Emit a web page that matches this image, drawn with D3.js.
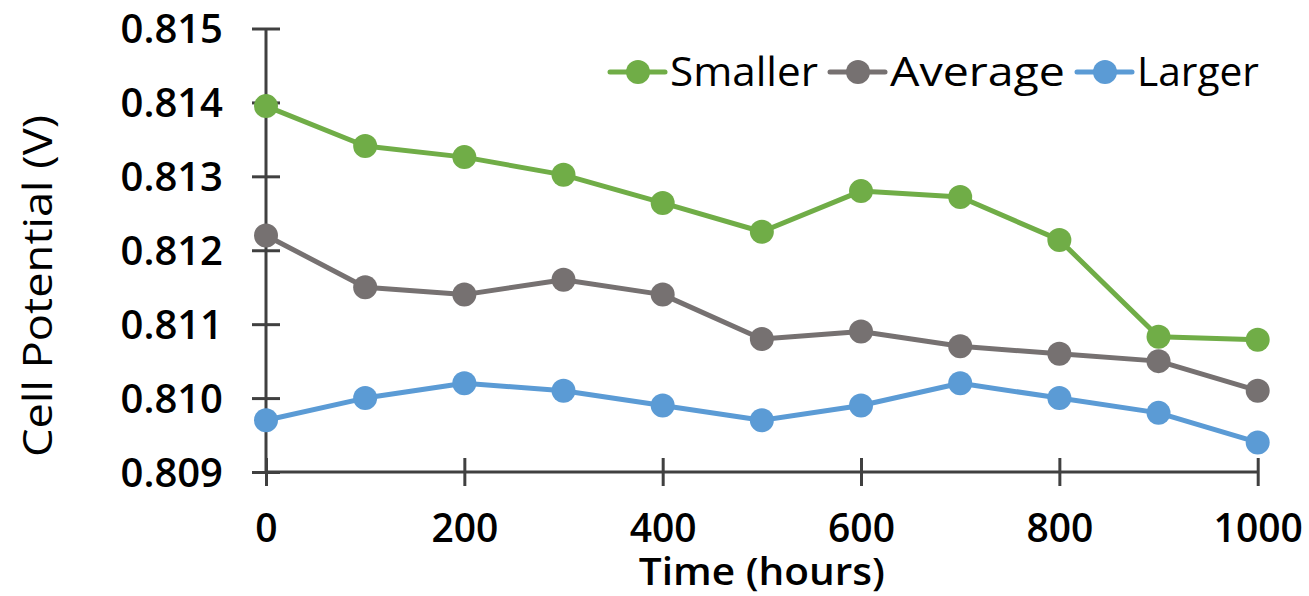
<!DOCTYPE html>
<html>
<head>
<meta charset="utf-8">
<script src="https://cdn.jsdelivr.net/npm/d3@7"></script>
<style>
  html, body { margin: 0; padding: 0; background: #fff; }
  svg { display: block; font-family: "Open Sans", sans-serif; }
</style>
</head>
<body>
<svg id="chart" width="1309" height="596"></svg>
<script>
// Time points (hours) and cell potential per particle-size group (V)
const hours = [0, 100, 200, 300, 400, 500, 600, 700, 800, 900, 1000];
const smaller = [0.81395, 0.81341, 0.81326, 0.81302, 0.81264, 0.81225, 0.8128, 0.81272, 0.81214, 0.81083, 0.81079];
const average = [0.8122, 0.8115, 0.8114, 0.8116, 0.8114, 0.8108, 0.8109, 0.8107, 0.8106, 0.8105, 0.8101];
const larger = [0.8097, 0.8100, 0.8102, 0.8101, 0.8099, 0.8097, 0.8099, 0.8102, 0.8100, 0.8098, 0.8094];
const seriesNames = ["Smaller", "Average", "Larger"];
const seriesColors = ["#70AD47", "#767171", "#5B9BD5"];
const xTicks = [0, 200, 400, 600, 800, 1000];
const yTicks = [0.809, 0.810, 0.811, 0.812, 0.813, 0.814, 0.815];

const svg = d3.select("#chart");
const axisColor = "#404040";

const x = d3.scaleLinear().domain([0, 1000]).range([266, 1257.7]);
const y = d3.scaleLinear().domain([0.809, 0.815]).range([472, 28.5]);

// Y axis with ticks crossing the line
const yAxis = svg.append("g")
  .attr("transform", `translate(${x(0)},0)`)
  .call(d3.axisLeft(y).tickValues(yTicks).tickFormat(d3.format(".3f")).tickSize(0).tickPadding(0));
yAxis.select(".domain").attr("stroke", axisColor).attr("stroke-width", 3)
  .attr("d", `M0,${y(0.815)}V${y(0.809)}`);
yAxis.selectAll(".tick line").attr("x1", -14).attr("x2", 14)
  .attr("stroke", axisColor).attr("stroke-width", 3);
yAxis.selectAll(".tick text")
  .attr("x", -43).attr("dy", "0.36em")
  .attr("fill", "#000").attr("font-size", 40).attr("font-weight", 600)
  .attr("font-family", "'Open Sans', sans-serif").attr("text-anchor", "end");

// X axis
const xAxis = svg.append("g")
  .attr("transform", `translate(0,${y(0.809)})`)
  .call(d3.axisBottom(x).tickValues(xTicks).tickFormat(d3.format("d")).tickSize(0).tickPadding(0));
xAxis.select(".domain").attr("stroke", axisColor).attr("stroke-width", 3)
  .attr("d", `M${x(0)},0H${x(1000)}`);
xAxis.selectAll(".tick line").attr("y1", -14).attr("y2", 14)
  .attr("stroke", axisColor).attr("stroke-width", 3);
xAxis.selectAll(".tick text")
  .attr("y", 70).attr("dy", 0)
  .attr("fill", "#000").attr("font-size", 39).attr("font-weight", 600)
  .attr("font-family", "'Open Sans', sans-serif");

// Axis titles
svg.append("text")
  .attr("x", (x(0) + x(1000)) / 2).attr("y", 585)
  .attr("text-anchor", "middle")
  .attr("font-size", 38).attr("font-weight", 600)
  .attr("textLength", 246).attr("lengthAdjust", "spacingAndGlyphs")
  .text("Time (hours)");

svg.append("text")
  .attr("transform", "translate(52,286) rotate(-90)")
  .attr("text-anchor", "middle")
  .attr("font-size", 40).attr("font-weight", 500)
  .attr("textLength", 342).attr("lengthAdjust", "spacingAndGlyphs")
  .text("Cell Potential (V)");

// Series lines and markers
const seriesData = [smaller, average, larger];
const line = d3.line().x((d, i) => x(hours[i])).y(d => y(d));

seriesData.forEach((vals, k) => {
  const g = svg.append("g");
  g.append("path").datum(vals)
    .attr("d", line).attr("fill", "none")
    .attr("stroke", seriesColors[k]).attr("stroke-width", 5)
    .attr("stroke-linejoin", "round");
  g.selectAll("circle").data(vals).join("circle")
    .attr("cx", (d, i) => x(hours[i])).attr("cy", d => y(d))
    .attr("r", 12).attr("fill", seriesColors[k]);
});

// Legend: swatch (line + marker) followed by the series name
const legendTextWidths = [148, 175, 122];
let lx = 610;
const ly = 72;
seriesNames.forEach((name, k) => {
  const g = svg.append("g");
  g.append("line").attr("x1", lx).attr("x2", lx + 55).attr("y1", ly).attr("y2", ly)
    .attr("stroke", seriesColors[k]).attr("stroke-width", 5).attr("stroke-linecap", "round");
  g.append("circle").attr("cx", lx + 28).attr("cy", ly).attr("r", 12).attr("fill", seriesColors[k]);
  g.append("text").attr("x", lx + 60).attr("y", ly + 14)
    .attr("font-size", 41).attr("font-weight", 500)
    .attr("textLength", legendTextWidths[k]).attr("lengthAdjust", "spacingAndGlyphs")
    .text(name);
  lx = lx + 60 + legendTextWidths[k] + 12;
});
</script>
</body>
</html>
